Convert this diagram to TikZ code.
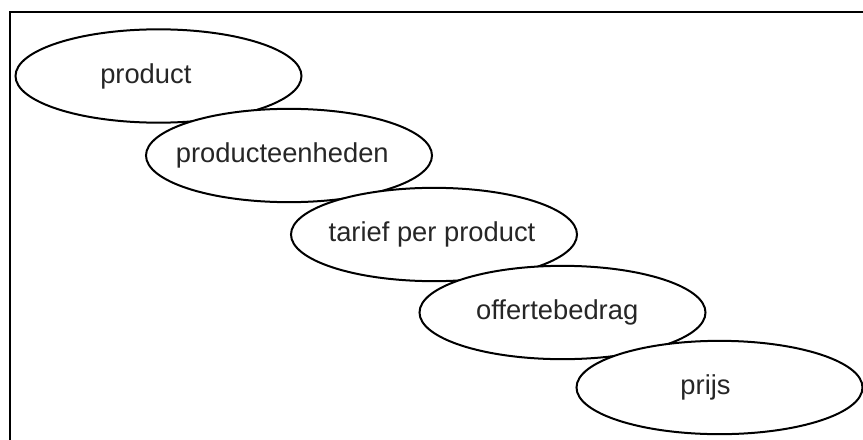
\documentclass[tikz,border=0pt]{standalone}
\usepackage{fontspec}
\setmainfont{Liberation Sans}
\usepackage{tikz}
\usetikzlibrary{shapes.geometric}

\begin{document}
\begin{tikzpicture}[
  x=0.75pt, y=-0.75pt,
  blob/.style={ellipse, draw=black, line width=1.5pt, fill=white,
    minimum width=214.5pt, minimum height=70pt, inner sep=0pt},
  lbl/.style={font=\fontsize{20.5}{24}\selectfont, text=black!85, inner sep=0pt}
]
  \clip (0,0) rectangle (863,439);
  % frame, only left and top edge inside the page
  \draw[line width=1.5pt] (10,12) rectangle (900,470);

  \node[blob] (product) at (158.5, 76) {};
  \node[lbl] (productT) at ([xshift=-9.5pt]product.center) {product};

  \node[blob] (eenheden) at (289, 155.5) {};
  \node[lbl] (eenhedenT) at ([xshift=-5pt]eenheden.center) {producteenheden};

  \node[blob] (tarief) at (434, 234.5) {};
  \node[lbl] (tariefT) at ([xshift=-1.5pt]tarief.center) {tarief per product};

  \node[blob] (offerte) at (562.5, 312.5) {};
  \node[lbl] (offerteT) at ([xshift=-4pt]offerte.center) {offertebedrag};

  \node[blob] (prijs) at (719.5, 387.5) {};
  \node[lbl] (prijsT) at ([xshift=-10.5pt]prijs.center) {prijs};
\end{tikzpicture}
\end{document}
